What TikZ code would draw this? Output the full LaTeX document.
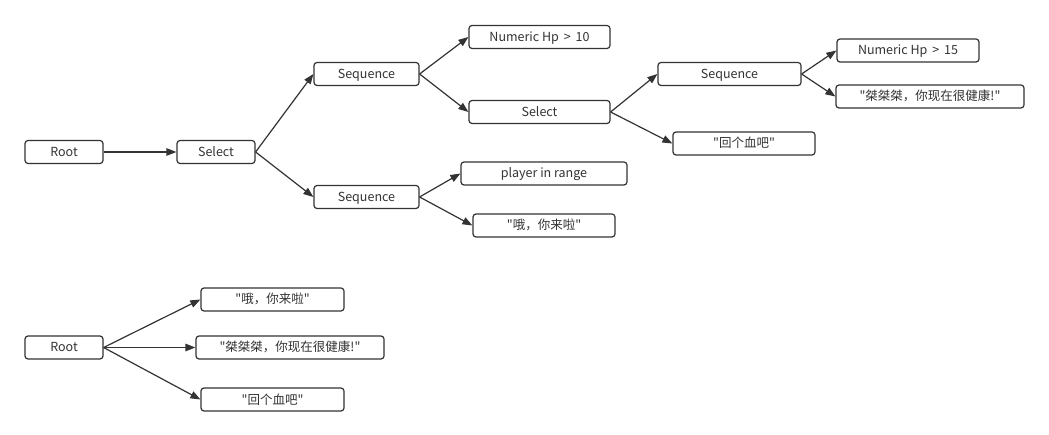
\documentclass[tikz,border=0pt]{standalone}
\usepackage{fontspec}
\setmainfont{Noto Sans CJK SC}[Ligatures=TeXOff]
\usetikzlibrary{arrows.meta}
\definecolor{ink}{HTML}{333333}
\begin{document}
\begin{tikzpicture}[x=1pt,y=-1pt,
  box/.style={draw=ink,line width=1.2pt,rounded corners=3pt,minimum height=23pt,inner sep=0pt,text height=10pt,text depth=1pt,text=ink,font=\fontsize{12.5}{14}\selectfont},
  conn/.style={draw=ink,line width=1.2pt,-{Triangle[length=10pt,width=7.5pt]}}]
\useasboundingbox[fill=white] (0,0) rectangle (1049,435);
\node[box,minimum width=78pt] (root) at (64,152) {Root};
\node[box,minimum width=78pt] (sel) at (216,152) {Select};
\node[box,minimum width=105pt] (seqa) at (366.5,74) {Sequence};
\node[box,minimum width=105pt] (seqb) at (366.5,197) {Sequence};
\node[box,minimum width=141pt] (hpa) at (539.5,37) {Numeric Hp \,>\, 10};
\node[box,minimum width=141pt] (selb) at (539.5,112) {Select};
\node[box,minimum width=143pt] (seqc) at (729.5,74) {Sequence};
\node[box,minimum width=142pt] (hpb) at (908,50.5) {Numeric Hp \,>\, 15};
\node[box,minimum width=188pt] (jie) at (930,96.5) {"桀桀桀，你现在很健康!"};
\node[box,minimum width=142pt] (hui) at (744,143.5) {"回个血吧"};
\node[box,minimum width=166pt] (pir) at (544,173.5) {player in range};
\node[box,minimum width=142pt] (o) at (544,225.5) {"哦，你来啦"};
\draw[conn] (root.east) -- (sel.west);
\draw[conn] (sel.east) -- (seqa.west);
\draw[conn] (sel.east) -- (seqb.west);
\draw[conn] (seqa.east) -- (hpa.west);
\draw[conn] (seqa.east) -- (selb.west);
\draw[conn] (selb.east) -- (seqc.west);
\draw[conn] (selb.east) -- (hui.west);
\draw[conn] (seqc.east) -- (hpb.west);
\draw[conn] (seqc.east) -- (jie.west);
\draw[conn] (seqb.east) -- (pir.west);
\draw[conn] (seqb.east) -- (o.west);
\node[box,minimum width=78pt] (rootb) at (64,347.5) {Root};
\node[box,minimum width=143pt] (ob) at (272.5,299.5) {"哦，你来啦"};
\node[box,minimum width=188pt] (jieb) at (290,347.5) {"桀桀桀，你现在很健康!"};
\node[box,minimum width=143pt] (huib) at (272.5,399.5) {"回个血吧"};
\draw[conn] (rootb.east) -- (ob.west);
\draw[conn] (rootb.east) -- (jieb.west);
\draw[conn] (rootb.east) -- (huib.west);
\end{tikzpicture}
\end{document}
